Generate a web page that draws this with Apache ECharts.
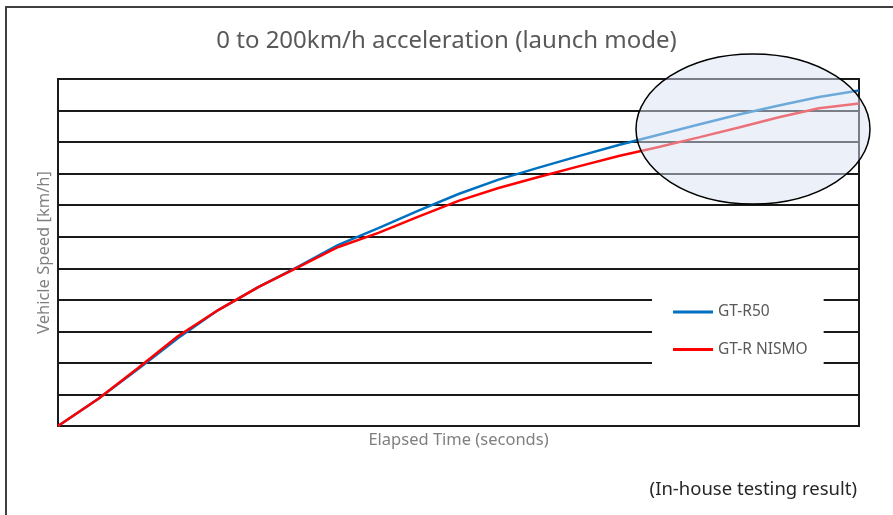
<!DOCTYPE html>
<html>
<head>
<meta charset="utf-8">
<style>
  html, body { margin: 0; padding: 0; background: #fff; }
  #chart { width: 893px; height: 515px; }
</style>
<script src="https://cdn.jsdelivr.net/npm/echarts@6/dist/echarts.min.js"></script>
</head>
<body>
<div id="chart"></div>
<script>
// elapsed time, arbitrary seconds scale (no tick labels in the source)
var timeSec = [0, 0.5, 1, 1.5, 2, 2.5, 3, 3.5, 4, 4.5, 5, 5.5, 6, 6.5, 7, 7.5, 8, 8.5, 9, 9.5, 10];
var gtr50Speed = [0, 17.1, 36.1, 55.8, 73.5, 88.1, 101.1, 114.8, 125.5, 136.6, 147.1, 156.2, 163.8, 171.1, 178.2, 184.7, 191.1, 197.5, 203.2, 208.6, 212.7];
var nismoSpeed = [0, 17.1, 36.8, 57.1, 73.5, 88.1, 100.8, 113.5, 122.4, 132.7, 142.7, 150.9, 157.9, 164.6, 171.2, 176.9, 183.0, 189.3, 195.7, 201.4, 204.5];
var seriesNames = ['GT-R50', 'GT-R NISMO'];

function pairs(xs, ys) {
  var out = [];
  for (var i = 0; i < xs.length; i++) out.push([xs[i], ys[i]]);
  return out;
}

var font = 'Noto Sans';
var chart = echarts.init(document.getElementById('chart'), null, { renderer: 'canvas' });
chart.setOption({
  animation: false,
  backgroundColor: '#fff',
  textStyle: { fontFamily: font },
  title: [
    {
      text: '0 to 200km/h acceleration (launch mode)',
      left: 'center',
      top: 24,
      textStyle: { color: '#595959', fontSize: 24, fontWeight: 'normal', fontFamily: font }
    },
    {
      text: '(In-house testing result)',
      right: 31,
      top: 475,
      textStyle: { color: '#262626', fontSize: 18.5, fontWeight: 'normal', fontFamily: font }
    }
  ],
  legend: {
    data: seriesNames,
    orient: 'vertical',
    left: 652,
    top: 292,
    padding: [12, 16, 12, 21],
    itemWidth: 40,
    itemHeight: 3,
    itemGap: 21.5,
    icon: 'rect',
    backgroundColor: '#fff',
    textStyle: { color: '#595959', fontSize: 15.5, fontFamily: font }
  },
  grid: {
    left: 58,
    right: 34,
    top: 79,
    bottom: 89,
    show: true,
    borderColor: '#1a1a1a',
    borderWidth: 2
  },
  xAxis: {
    type: 'value',
    min: 0,
    max: 10,
    name: 'Elapsed Time (seconds)',
    nameLocation: 'middle',
    nameGap: 6,
    nameTextStyle: { color: '#7f7f7f', fontSize: 16.5, fontFamily: font, verticalAlign: 'top' },
    axisLine: { show: false },
    axisTick: { show: false },
    axisLabel: { show: false },
    splitLine: { show: false }
  },
  yAxis: {
    type: 'value',
    min: 0,
    max: 220,
    interval: 20,
    name: 'Vehicle Speed [km/h]',
    nameLocation: 'middle',
    nameGap: 5,
    nameTextStyle: { color: '#7f7f7f', fontSize: 16.5, fontFamily: font },
    axisLine: { show: false },
    axisTick: { show: false },
    axisLabel: { show: false },
    splitLine: { lineStyle: { color: '#1a1a1a', width: 2 } }
  },
  series: [
    {
      name: seriesNames[0],
      type: 'line',
      data: pairs(timeSec, gtr50Speed),
      showSymbol: false,
      lineStyle: { color: '#0070c0', width: 2.5 },
      itemStyle: { color: '#0070c0' }
    },
    {
      name: seriesNames[1],
      type: 'line',
      data: pairs(timeSec, nismoSpeed),
      showSymbol: false,
      lineStyle: { color: '#ff0000', width: 2.5 },
      itemStyle: { color: '#ff0000' }
    }
  ],
  graphic: [
    {
      type: 'rect',
      shape: { x: 6, y: 7, width: 920, height: 540 },
      style: { fill: 'none', stroke: '#3f3f3f', lineWidth: 2 },
      silent: true
    },
    {
      type: 'ellipse',
      shape: { cx: 753, cy: 129, rx: 117, ry: 75 },
      style: { fill: 'rgba(218,227,243,0.5)', stroke: '#000', lineWidth: 1.5 },
      z: 100,
      silent: true
    }
  ]
});
</script>
</body>
</html>
